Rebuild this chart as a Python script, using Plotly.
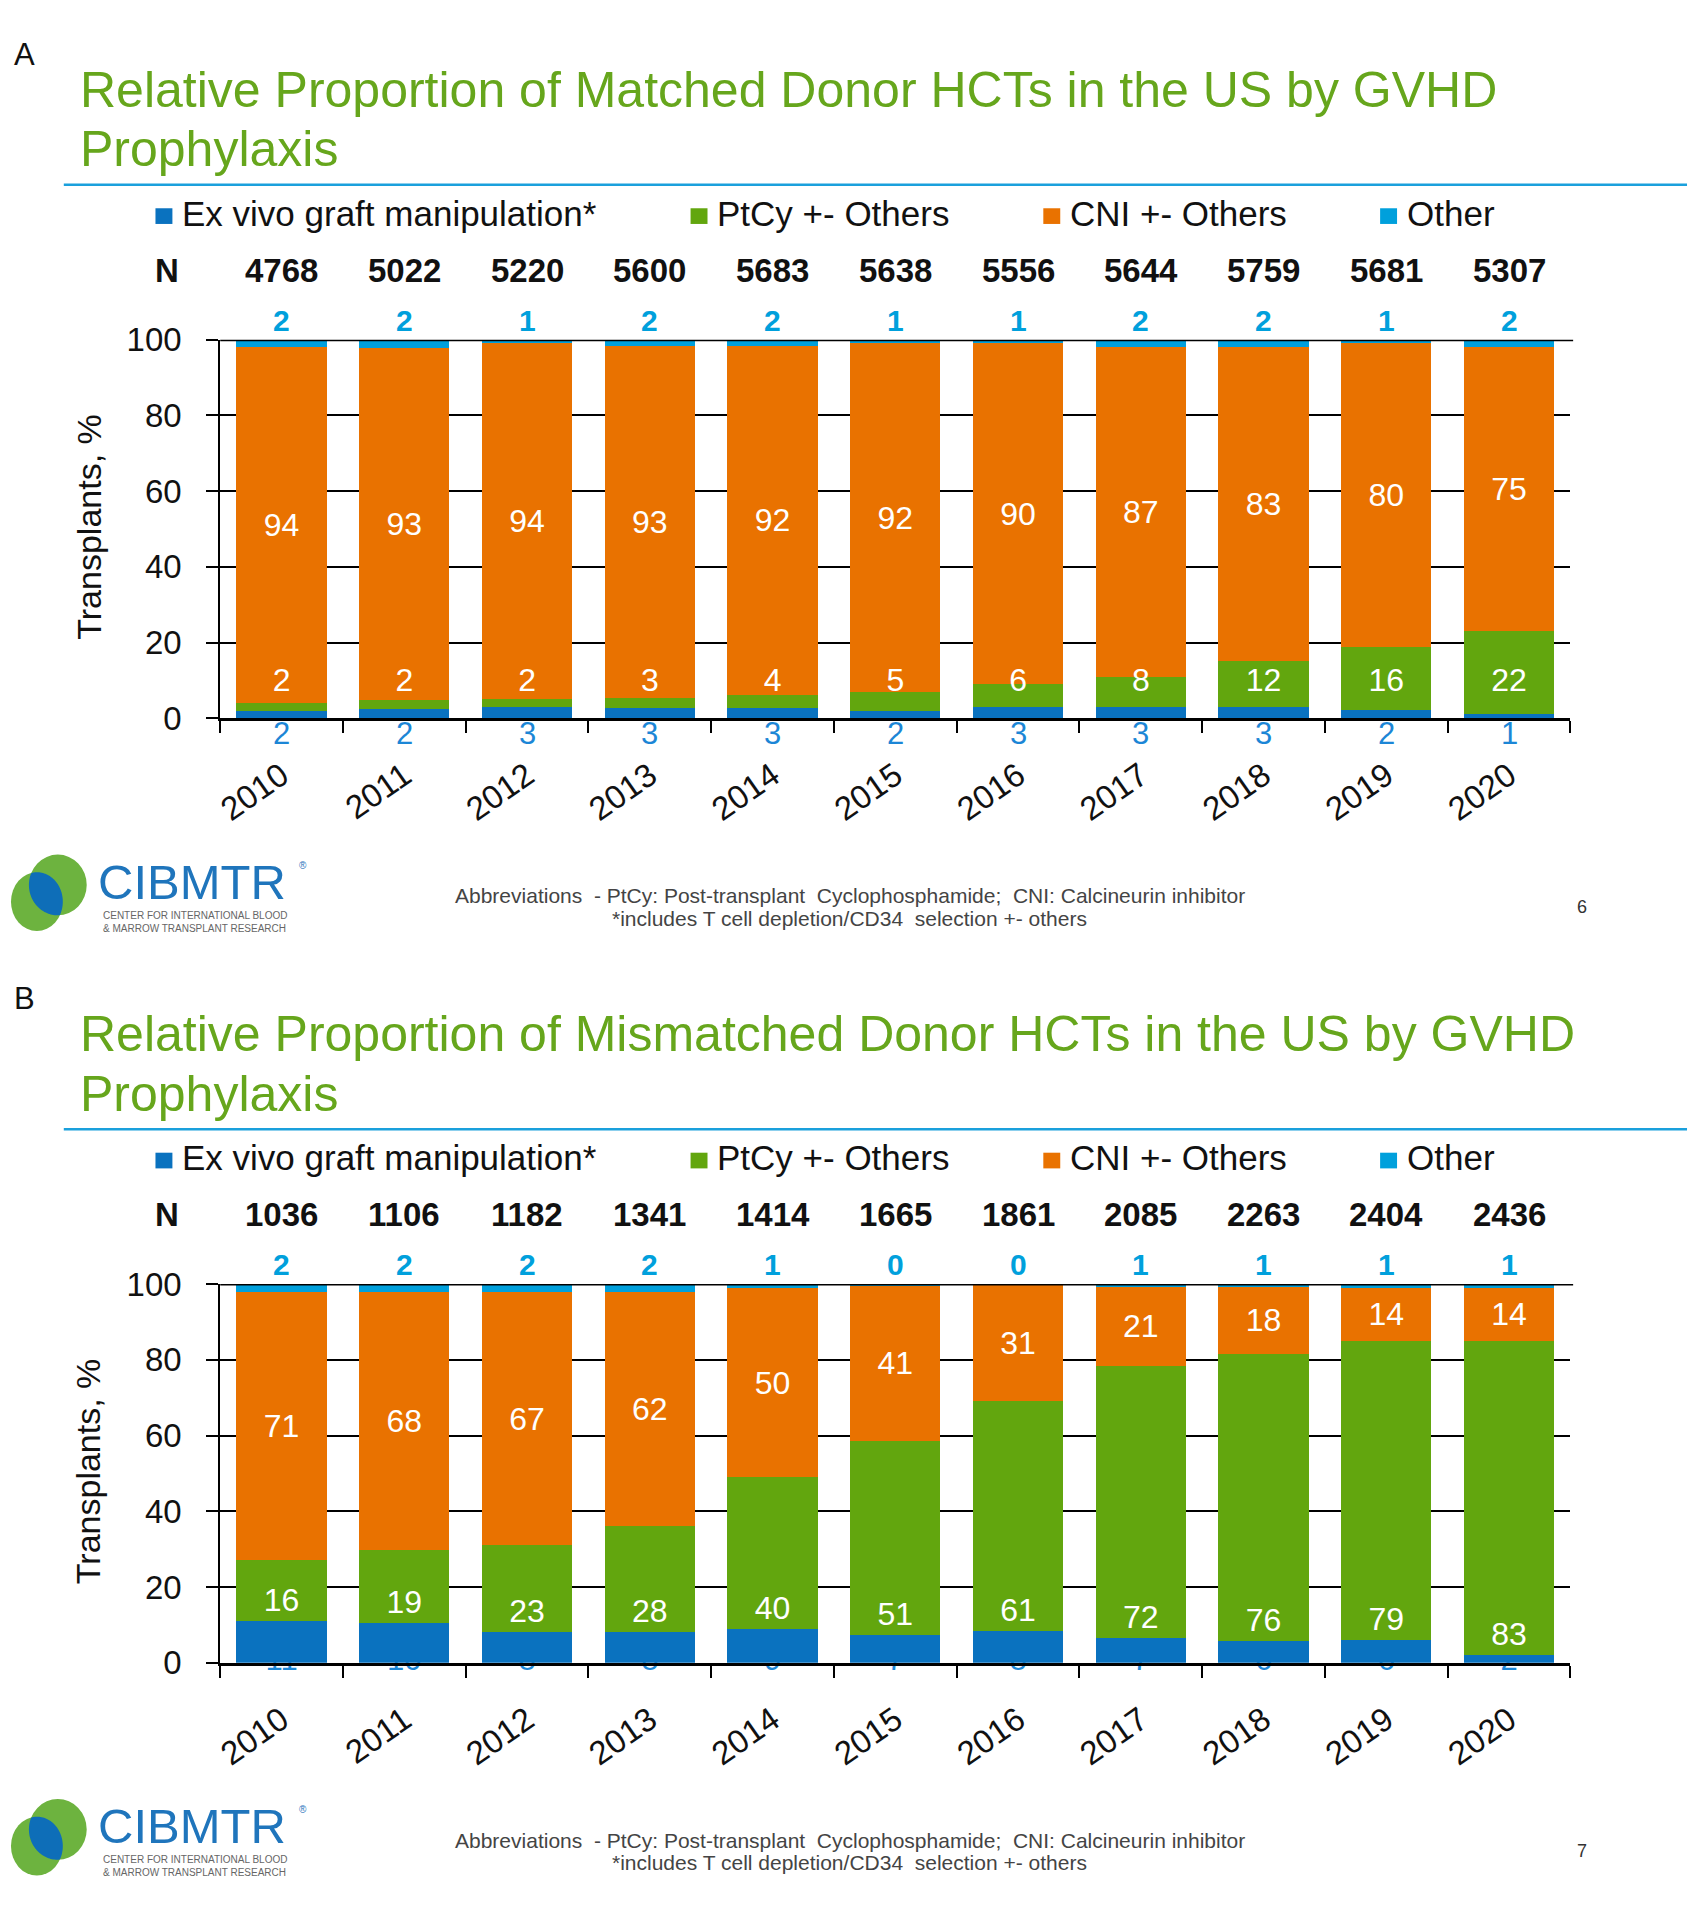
import plotly.graph_objects as go
import numpy as np

W, H = 1693, 1920
FONT = "Liberation Sans, Arial, sans-serif"

# ---------------- data ----------------
years = ["2010", "2011", "2012", "2013", "2014", "2015", "2016", "2017", "2018", "2019", "2020"]
series_names = ["Ex vivo graft manipulation*", "PtCy +- Others", "CNI +- Others", "Other"]
series_colors = ["#0a72bf", "#62a60e", "#e97200", "#00a0dc"]

# Panel A: matched donor (values in %, estimated to one decimal where labels are rounded)
n_matched = [4768, 5022, 5220, 5600, 5683, 5638, 5556, 5644, 5759, 5681, 5307]
exvivo_matched = [2, 2.4, 3, 2.7, 2.6, 2, 3, 3, 3, 2.3, 1]
ptcy_matched = [2, 2.4, 2, 2.7, 3.6, 5, 6, 8, 12, 16.4, 22]
cni_matched = [94, 93.0, 94, 92.8, 92.2, 92, 90, 87, 83, 80.4, 75]
other_matched = [2, 2.2, 1, 1.8, 1.6, 1, 1, 2, 2, 0.9, 2]

# Panel B: mismatched donor
n_mismatched = [1036, 1106, 1182, 1341, 1414, 1665, 1861, 2085, 2263, 2404, 2436]
exvivo_mismatched = [11, 10.4, 8, 8, 9, 7.4, 8.4, 6.6, 5.6, 6, 2]
ptcy_mismatched = [16, 19.3, 23, 28, 40, 51.2, 60.8, 71.8, 75.9, 79, 83]
cni_mismatched = [71, 68.3, 67, 62, 50, 41.0, 30.6, 20.9, 17.8, 14, 14]
other_mismatched = [2, 2.0, 2, 2, 1, 0.4, 0.2, 0.7, 0.7, 1, 1]

y_ticks = [0, 20, 40, 60, 80, 100]

titles = ["Relative Proportion of Matched Donor HCTs in the US by GVHD",
          "Relative Proportion of Mismatched Donor HCTs in the US by GVHD"]
title_line2 = "Prophylaxis"
panel_letters = ["A", "B"]
page_numbers = ["6", "7"]
abbrev1 = "Abbreviations  - PtCy: Post-transplant  Cyclophosphamide;  CNI: Calcineurin inhibitor"
abbrev2 = "*includes T cell depletion/CD34  selection +- others"
y_title = "Transplants, %"


def px(x):
    return x / W


def py(y):
    return 1 - y / H


def fmt(v):
    return "%.0f" % v


fig = go.Figure()
annotations = []
shapes = []

PLOT_L, PLOT_R = 215, 1570
PLOT_TOP, PLOT_BOT = 328, 714
OFFSET = 963

idx = list(range(len(years)))
bounds = [i - 0.5 for i in range(len(years) + 1)]

panels = [
    dict(n=n_matched, ex=exvivo_matched, pt=ptcy_matched, cni=cni_matched, oth=other_matched),
    dict(n=n_mismatched, ex=exvivo_mismatched, pt=ptcy_mismatched, cni=cni_mismatched, oth=other_mismatched),
]

layout_axes = {}

for i, p in enumerate(panels):
    dy = OFFSET * i
    if i == 0:
        base_x, base_y, base_xn, base_yn = "x", "y", "xaxis", "yaxis"
        bar_x, bar_y = "x", "y"
    else:
        base_x, base_y, base_xn, base_yn = "x2", "y2", "xaxis2", "yaxis2"
        bar_x, bar_y = "x3", "y3"

    ydom = [py(PLOT_BOT + dy), py(PLOT_TOP + dy)]
    xdom = [px(PLOT_L), px(PLOT_R)]

    layout_axes[base_xn] = dict(
        domain=xdom, anchor=base_y, range=[-0.5, len(years) - 0.5],
        tickmode="array", tickvals=idx, ticktext=years,
        showline=True, linecolor="black", linewidth=3,
        ticks="outside", ticklen=12, tickcolor="rgba(0,0,0,0)", tickangle=-35,
        ticklabelstandoff=10,
        minor=dict(tickmode="array", tickvals=bounds, ticks="outside", ticklen=12,
                   tickwidth=2, tickcolor="black", showgrid=False),
        tickfont=dict(size=33, color="#111111", family=FONT), showgrid=False, zeroline=False,
    )
    layout_axes[base_yn] = dict(
        domain=ydom, anchor=base_x, range=[0, 100], tickvals=y_ticks, showgrid=True,
        gridcolor="black", gridwidth=2, showline=True, linecolor="black", linewidth=2,
        ticks="outside", ticklen=12, tickwidth=2, tickcolor="black", ticklabelstandoff=18,
        tickfont=dict(size=33, color="#111111", family=FONT), zeroline=False,
    )
    if i == 1:
        layout_axes["xaxis3"] = dict(
            overlaying="x2", anchor="y3", range=[-0.5, len(years) - 0.5],
            visible=False, showgrid=False, zeroline=False,
        )
        layout_axes["yaxis3"] = dict(
            overlaying="y2", anchor="x3", range=[0, 100], visible=False,
            showgrid=False, zeroline=False,
        )
        # ex vivo labels sitting on the axis, mostly hidden behind the bars
        fig.add_trace(go.Scatter(
            x=idx, y=[0.05] * len(years), mode="text", text=[fmt(v) for v in p["ex"]],
            textfont=dict(size=31, color="#1c86d6", family=FONT), cliponaxis=False,
            showlegend=False, hoverinfo="skip", xaxis=base_x, yaxis=base_y,
        ))
    else:
        # ex vivo labels below the axis
        for xi, v in zip(idx, p["ex"]):
            annotations.append(dict(
                x=xi, xref=base_x, y=py(730), yref="paper", text=fmt(v),
                showarrow=False, xanchor="center", yanchor="middle",
                font=dict(size=31, color="#1c86d6", family=FONT),
            ))

    values = [p["ex"], p["pt"], p["cni"], p["oth"]]
    for k, (name, col, vals) in enumerate(zip(series_names, series_colors, values)):
        kw = dict(textposition="none")
        if k == 2:
            kw = dict(texttemplate="%{y:.0f}", textposition="inside",
                      insidetextanchor="middle")
        if k == 1 and i == 1:
            kw = dict(texttemplate="%{y:.0f}", textposition="inside",
                      insidetextanchor="start")
        fig.add_trace(go.Bar(
            x=idx, y=vals, name=name, marker=dict(color=col, line=dict(width=0)),
            insidetextfont=dict(size=32, color="white", family=FONT),
            textfont=dict(size=32, color="white", family=FONT),
            showlegend=False, hoverinfo="skip", xaxis=bar_x, yaxis=bar_y, **kw,
        ))

    if i == 0:
        fig.add_trace(go.Scatter(
            x=idx, y=[9.3] * len(years), mode="text", text=[fmt(v) for v in p["pt"]],
            textfont=dict(size=32, color="white", family=FONT), cliponaxis=False,
            showlegend=False, hoverinfo="skip", xaxis=bar_x, yaxis=bar_y,
        ))

    # top "Other" labels
    for xi, v in zip(idx, p["oth"]):
        annotations.append(dict(
            x=xi, xref=base_x, y=py(308 + dy), yref="paper", text="<b>%s</b>" % fmt(v),
            showarrow=False, xanchor="center", yanchor="middle",
            font=dict(size=30, color="#00a0dc", family=FONT),
        ))
    # N row
    annotations.append(dict(
        x=px(162), xref="paper", y=py(257 + dy), yref="paper", text="<b>N</b>",
        showarrow=False, xanchor="center", yanchor="middle",
        font=dict(size=33, color="#111111", family=FONT),
    ))
    for xi, v in zip(idx, p["n"]):
        annotations.append(dict(
            x=xi, xref=base_x, y=py(257 + dy), yref="paper", text="<b>%d</b>" % v,
            showarrow=False, xanchor="center", yanchor="middle",
            font=dict(size=33, color="#111111", family=FONT),
        ))

    # top border at 100
    shapes.append(dict(type="line", xref=base_x + " domain", x0=0, x1=1.002,
                       yref=base_y, y0=100, y1=100, line=dict(color="black", width=3)))

    # y axis title
    annotations.append(dict(
        x=px(83), xref="paper", y=py(519 + dy), yref="paper", text=y_title,
        textangle=-90, showarrow=False, xanchor="center", yanchor="middle",
        font=dict(size=34, color="#111111", family=FONT),
    ))

    # panel letter
    annotations.append(dict(
        x=px(6), xref="paper", y=py(37 + dy), yref="paper", text=panel_letters[i],
        showarrow=False, xanchor="left", yanchor="middle",
        font=dict(size=31, color="#111111", family=FONT),
    ))
    # titles
    annotations.append(dict(
        x=px(72), xref="paper", y=py(73 + dy), yref="paper", text=titles[i],
        showarrow=False, xanchor="left", yanchor="middle",
        font=dict(size=50, color="#66a61c", family=FONT),
    ))
    annotations.append(dict(
        x=px(72), xref="paper", y=py(134 + dy), yref="paper", text=title_line2,
        showarrow=False, xanchor="left", yanchor="middle",
        font=dict(size=50, color="#66a61c", family=FONT),
    ))
    # rule
    shapes.append(dict(type="line", xref="paper", yref="paper", x0=px(58), x1=px(1687),
                       y0=py(170 + dy), y1=py(170 + dy), line=dict(color="#1aa0dc", width=2.5)))

    # legend
    sq_x = [158, 695, 1049, 1387]
    for name, col, sx in zip(series_names, series_colors, sq_x):
        shapes.append(dict(type="rect", xref="paper", yref="paper", x0=px(sx - 8), x1=px(sx + 9),
                           y0=py(210 + dy), y1=py(194 + dy), fillcolor=col, line=dict(width=0)))
        annotations.append(dict(
            x=px(sx + 17), xref="paper", y=py(199 + dy), yref="paper", text=name,
            showarrow=False, xanchor="left", yanchor="middle",
            font=dict(size=35, color="#111111", family=FONT),
        ))

    # footer: logo
    c1 = (31, 901 + dy, 26, 30)
    c2 = (52, 884 + dy, 29, 31)
    for (cx, cy, a, b) in (c1, c2):
        shapes.append(dict(type="circle", xref="paper", yref="paper",
                           x0=px(cx - a), x1=px(cx + a), y0=py(cy + b), y1=py(cy - b),
                           fillcolor="#6db33f", line=dict(width=0)))
    ox, oy = (c1[0] + c2[0]) / 2, (c1[1] + c2[1]) / 2
    pts = []
    for th in np.linspace(0, 2 * np.pi, 120, endpoint=False):
        rs = []
        for (cx, cy, a, b) in (c1, c2):
            u, v = np.cos(th) / a, np.sin(th) / b
            pp, qq = (ox - cx) / a, (oy - cy) / b
            A = u * u + v * v
            B = pp * u + qq * v
            C = pp * pp + qq * qq - 1
            rs.append((-B + np.sqrt(B * B - A * C)) / A)
        r = min(rs)
        pts.append((px(ox + r * np.cos(th)), py(oy + r * np.sin(th))))
    path = "M " + " L ".join("%.5f,%.5f" % q for q in pts) + " Z"
    shapes.append(dict(type="path", xref="paper", yref="paper", path=path,
                       fillcolor="#0e6eb8", line=dict(width=0)))
    annotations.append(dict(
        x=px(90), xref="paper", y=py(881 + dy), yref="paper", text="CIBMTR",
        showarrow=False, xanchor="left", yanchor="middle",
        font=dict(size=49, color="#1f75bc", family=FONT),
    ))
    annotations.append(dict(
        x=px(292), xref="paper", y=py(864 + dy), yref="paper", text="®",
        showarrow=False, xanchor="left", yanchor="middle",
        font=dict(size=10, color="#1f75bc", family=FONT),
    ))
    annotations.append(dict(
        x=px(95), xref="paper", y=py(915 + dy), yref="paper", text="CENTER FOR INTERNATIONAL BLOOD",
        showarrow=False, xanchor="left", yanchor="middle",
        font=dict(size=10, color="#666666", family=FONT),
    ))
    annotations.append(dict(
        x=px(95), xref="paper", y=py(928 + dy), yref="paper", text="&amp; MARROW TRANSPLANT RESEARCH",
        showarrow=False, xanchor="left", yanchor="middle",
        font=dict(size=10, color="#666666", family=FONT),
    ))
    # abbreviations
    annotations.append(dict(
        x=px(847), xref="paper", y=py(895 + dy), yref="paper", text=abbrev1,
        showarrow=False, xanchor="center", yanchor="middle",
        font=dict(size=21, color="#444444", family=FONT),
    ))
    annotations.append(dict(
        x=px(847), xref="paper", y=py(918 + dy), yref="paper", text=abbrev2,
        showarrow=False, xanchor="center", yanchor="middle",
        font=dict(size=21, color="#444444", family=FONT),
    ))
    annotations.append(dict(
        x=px(1582), xref="paper", y=py(906 + dy), yref="paper", text=page_numbers[i],
        showarrow=False, xanchor="center", yanchor="middle",
        font=dict(size=18, color="#333333", family=FONT),
    ))

fig.update_layout(
    width=W, height=H, autosize=False,
    margin=dict(l=0, r=0, t=0, b=0),
    paper_bgcolor="white", plot_bgcolor="rgba(0,0,0,0)",
    barmode="stack", bargap=0.265,
    showlegend=False,
    font=dict(family=FONT, color="#111111"),
    annotations=annotations, shapes=shapes,
    **layout_axes,
)

fig.write_html("out.html", config={"displayModeBar": False},
               post_script="document.body.style.margin='0px';")
